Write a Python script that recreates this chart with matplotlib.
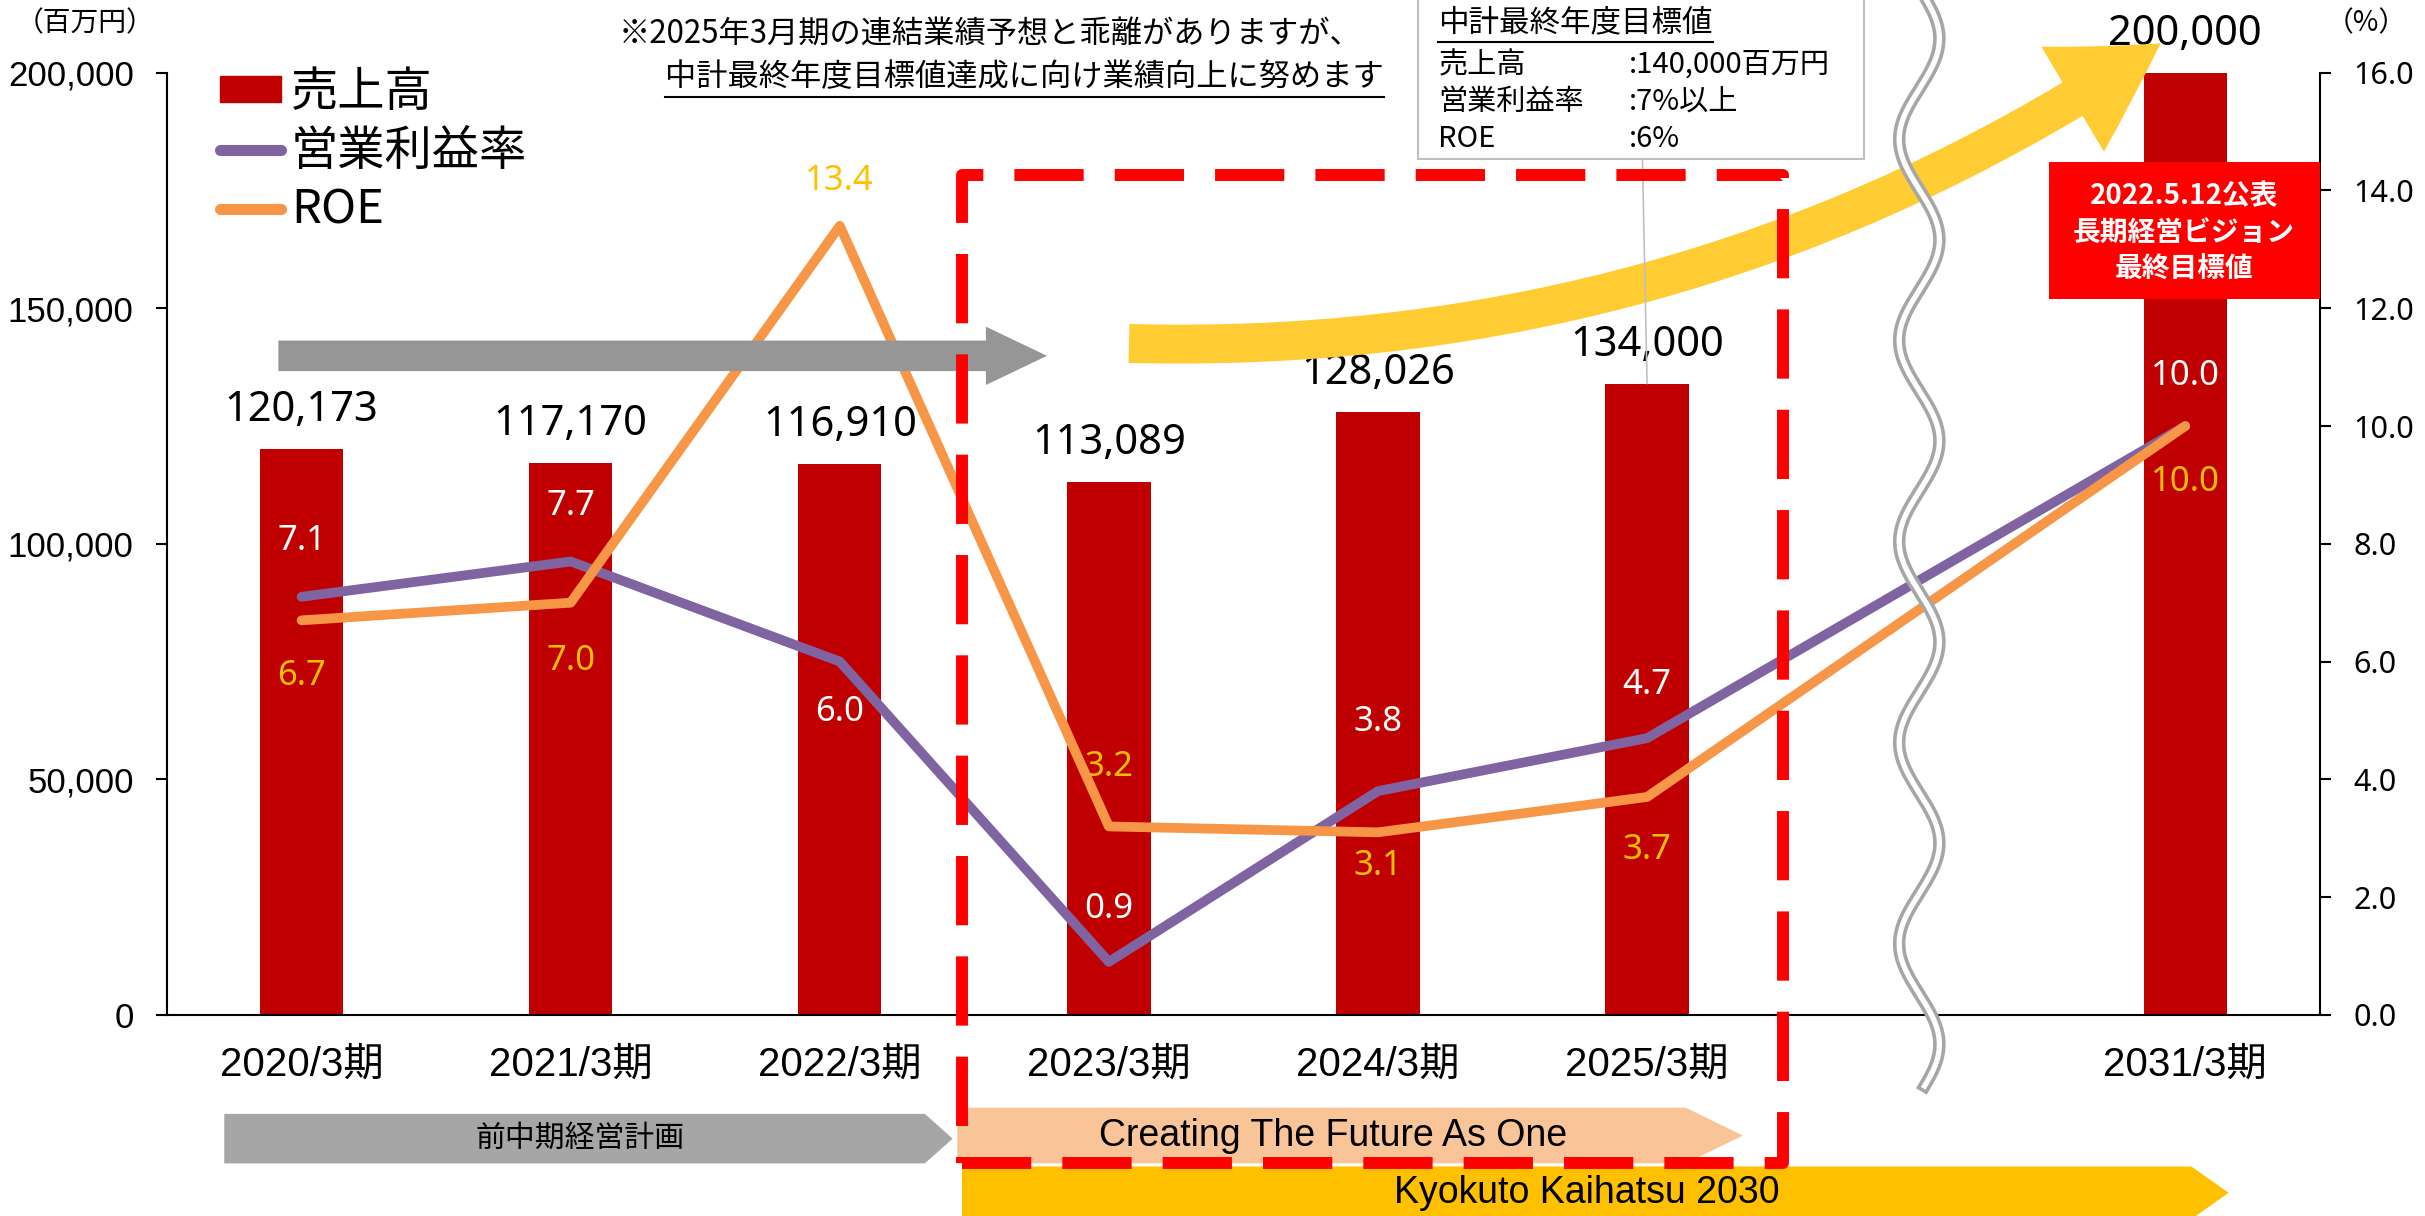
import numpy as np
import matplotlib.pyplot as plt
from matplotlib import font_manager
from matplotlib.patches import Patch, Polygon, Rectangle, FancyArrowPatch, ConnectionPatch
from matplotlib.lines import Line2D

plt.rcParams['font.family'] = ['Noto Sans CJK JP', 'DejaVu Sans']
names = set(f.name for f in font_manager.fontManager.ttflist)
NARROW = 'Liberation Sans Narrow' if 'Liberation Sans Narrow' in names else 'Liberation Sans'
LATIN = 'Noto Sans'

# data
periods = ['2020/3期', '2021/3期', '2022/3期', '2023/3期', '2024/3期', '2025/3期', '2031/3期']
xpos = [0, 1, 2, 3, 4, 5, 7]          # slot 6 is the break
sales = [120173, 117170, 116910, 113089, 128026, 134000, 200000]
op_margin = [7.1, 7.7, 6.0, 0.9, 3.8, 4.7, 10.0]
roe = [6.7, 7.0, 13.4, 3.2, 3.1, 3.7, 10.0]
left_ticks = [0, 50000, 100000, 150000, 200000]
right_ticks = [0, 2, 4, 6, 8, 10, 12, 14, 16]

# label offsets (points), + above / - below
op_off = [40, 40, -36, 38, 50, 38, 36]
roe_off = [-40, -42, 32, 43, -24, -38, -40]

RED = '#C00000'
PURPLE = '#8064A2'
ORANGE = '#F79646'
GOLD = '#FFC000'

fig = plt.figure(figsize=(24.25, 12.16), dpi=100)


def F(x, y):
    # position measured on the 1568x786 preview -> figure fraction
    return (x / 1568, 1 - y / 786)


ax = fig.add_axes([108 / 1568, 1 - 656 / 786, (1500 - 108) / 1568, (656 - 47) / 786])
ax2 = ax.twinx()

ax.bar(xpos, sales, width=0.31, color=RED, zorder=2)
ax.set_xlim(-0.5, 7.5)
ax.set_ylim(0, 200000)
ax.set_yticks(left_ticks)
ax.set_yticklabels([f'{v:,}' for v in left_ticks], family=[NARROW, 'Noto Sans CJK JP'], fontsize=25)
ax.set_xticks(xpos)
ax.set_xticklabels(periods, family=[NARROW, 'Noto Sans CJK JP'], fontsize=29)
ax.tick_params(axis='x', length=0, pad=22)
ax.tick_params(axis='y', length=8, width=1.5, pad=16)
for s in ['top', 'right']:
    ax.spines[s].set_visible(False)
ax.spines['left'].set_linewidth(1.5)
ax.spines['bottom'].set_linewidth(1.5)

for x, v in zip(xpos, sales):
    ax.annotate(f'{v:,}', (x, v), xytext=(0, 28), textcoords='offset points',
                ha='center', va='center', fontsize=30, family=LATIN, zorder=5)

ax2.plot(xpos, op_margin, color=PURPLE, lw=7, solid_capstyle='round', zorder=3)
ax2.plot(xpos, roe, color=ORANGE, lw=7, solid_capstyle='round', zorder=4)
ax2.set_ylim(0, 16)
ax2.set_yticks(right_ticks)
ax2.set_yticklabels([f'{v:.1f}' for v in right_ticks], family=LATIN, fontsize=22)
ax2.tick_params(axis='y', length=8, width=1.5, pad=16)
for s in ['top', 'left', 'bottom']:
    ax2.spines[s].set_visible(False)
ax2.spines['right'].set_linewidth(1.5)

for x, v, o in zip(xpos, op_margin, op_off):
    ax2.annotate(f'{v:.1f}', (x, v), xytext=(0, o), textcoords='offset points',
                 ha='center', va='center', fontsize=25, family=LATIN, color='white')
for x, v, o in zip(xpos, roe, roe_off):
    ax2.annotate(f'{v:.1f}', (x, v), xytext=(0, o), textcoords='offset points',
                 ha='center', va='center', fontsize=25, family=LATIN, color=GOLD)

# legend
handles = [Patch(color=RED),
           Line2D([], [], color=PURPLE, lw=8, solid_capstyle='round'),
           Line2D([], [], color=ORANGE, lw=8, solid_capstyle='round')]
fig.legend(handles, ['売上高', '営業利益率', 'ROE'], loc='upper left',
           bbox_to_anchor=F(127, 29), frameon=False, fontsize=34,
           handlelength=1.3, handleheight=0.45, handletextpad=0.2,
           labelspacing=0.22, borderpad=0)

# unit labels
fig.text(*F(55, 15), '（百万円）', fontsize=20, ha='center', va='center')
fig.text(*F(1530, 15), '（%）', fontsize=20, ha='center', va='center')

# note at top
renderer = fig.canvas.get_renderer()
fig.text(*F(400, 22), '※2025年3月期の連結業績予想と乖離がありますが、', fontsize=22.5,
         ha='left', va='center')
t2 = fig.text(*F(430, 50), '中計最終年度目標値達成に向け業績向上に努めます', fontsize=22.5,
              ha='left', va='center')


def underline(t, gap=4):
    bb = t.get_window_extent(renderer).transformed(fig.transFigure.inverted())
    fig.add_artist(Line2D([bb.x0, bb.x1], [bb.y0 - gap / 1216] * 2, color='black', lw=1.5,
                          transform=fig.transFigure, zorder=7))


underline(t2)

# target box
fig.add_artist(Rectangle(F(917, 103), (1205 - 917) / 1568, 106 / 786, transform=fig.transFigure,
                         facecolor='white', edgecolor='#BFBFBF', lw=1.5, zorder=6))
tt = fig.text(*F(930, 15), '中計最終年度目標値', fontsize=22, ha='left', va='center', zorder=7)
underline(tt, gap=3)
box_rows = [('売上高', ':140,000百万円'), ('営業利益率', ':7%以上'), ('ROE', ':6%')]
for i, (k, v) in enumerate(box_rows):
    fig.text(*F(930, 42 + 24 * i), k, fontsize=21, ha='left', va='center', zorder=7)
    fig.text(*F(1053, 42 + 24 * i), v, fontsize=21, ha='left', va='center', zorder=7)
fig.add_artist(ConnectionPatch(xyA=(5, sales[5]), coordsA=ax.transData,
                               xyB=F(1062, 103), coordsB=fig.transFigure,
                               color='#BFBFBF', lw=1.2, zorder=6))

# arrows
fig.add_artist(FancyArrowPatch(F(180, 230), F(677, 230), transform=fig.transFigure,
                               arrowstyle='simple,head_length=44,head_width=42,tail_width=22',
                               mutation_scale=1, shrinkA=0, shrinkB=0,
                               color='#969696', lw=0, zorder=1))
fig.add_artist(FancyArrowPatch(F(730, 222), F(1397, 28), transform=fig.transFigure,
                               connectionstyle='arc3,rad=0.16',
                               arrowstyle='simple,head_length=75,head_width=88,tail_width=28',
                               mutation_scale=1, shrinkA=0, shrinkB=0,
                               color='#FFCC33', lw=0, zorder=1))

# bottom chevrons
def chevron(x0, x1, xt, y0, y1, color):
    pts = [F(x0, y0), F(x1, y0), F(xt, (y0 + y1) / 2), F(x1, y1), F(x0, y1)]
    fig.add_artist(Polygon(pts, closed=True, transform=fig.transFigure, facecolor=color,
                           edgecolor='none', zorder=1))


chevron(145, 598, 616, 720, 752, '#A6A6A6')
chevron(619, 1090, 1127, 716, 752, '#F8C498')
chevron(622, 1417, 1441, 754, 788, GOLD)
fig.text(*F(375, 736), '前中期経営計画', fontsize=21.5, ha='center', va='center')
fig.text(*F(862, 734), 'Creating The Future As One', fontsize=27, family=NARROW,
         ha='center', va='center')
fig.text(*F(1026, 771), 'Kyokuto Kaihatsu 2030', fontsize=27, family=NARROW,
         ha='center', va='center')

# red dashed frame
fig.add_artist(Rectangle(F(622, 752), (1153 - 622) / 1568, (752 - 113) / 786,
                         transform=fig.transFigure, fill=False, edgecolor='#FF0000',
                         lw=8.6, linestyle=(0, (5.8, 2.6)), joinstyle='round', zorder=8))

# long-term target label
fig.add_artist(Rectangle(F(1325, 193), 175 / 1568, 88 / 786, transform=fig.transFigure,
                         facecolor='#FF0000', edgecolor='none', zorder=6))
for i, s in enumerate(['2022.5.12公表', '長期経営ビジョン', '最終目標値']):
    fig.text(*F(1412, 127 + 23.5 * i), s, fontsize=20, fontweight='bold', color='white',
             ha='center', va='center', zorder=7)

# wavy axis break
wy = np.linspace(0, 702, 600)
wx = 1241 - 13 * np.cos(2 * np.pi * (wy - 90) / 130)
fx, fy = F(wx, wy)
fig.add_artist(Line2D(fx, fy, color='#A6A6A6', lw=9, transform=fig.transFigure, zorder=9))
fig.add_artist(Line2D(fx, fy, color='white', lw=3.8, transform=fig.transFigure, zorder=9))

fig.savefig('out.png', dpi=100)
